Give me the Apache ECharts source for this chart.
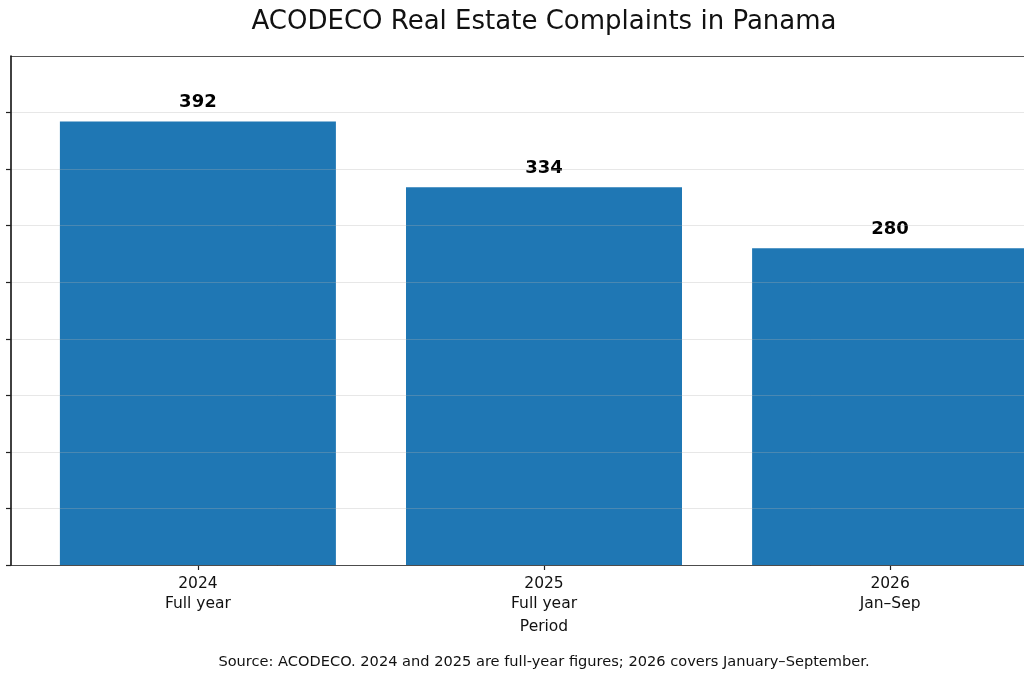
<!DOCTYPE html>
<html>
<head>
<meta charset="utf-8">
<script src="https://cdn.jsdelivr.net/npm/echarts@6/dist/echarts.min.js"></script>
<style>
  html, body { margin: 0; padding: 0; background: #fff; overflow: hidden; }
  /* the original plot runs past the right edge of the picture, so the canvas is wider than the window */
  #chart { width: 1100px; height: 683px; }
</style>
</head>
<body>
<div id="chart"></div>
<script>
// data
const years = ['2024', '2025', '2026'];
const periods = ['Full year', 'Full year', 'Jan–Sep'];
const complaints = [392, 334, 280];
const yTicks = [0, 50, 100, 150, 200, 250, 300, 350, 400];
const xTicks = [0, 1, 2];

const titleText = 'ACODECO Real Estate Complaints in Panama';
const sourceText = 'Source: ACODECO. 2024 and 2025 are full-year figures; 2026 covers January–September.';

const font = 'DejaVu Sans';

// bars sit on a value axis so the side margins can match the original plot
const barData = complaints.map(function (v, i) {
    return [i, v];
});

const chart = echarts.init(document.getElementById('chart'), null, {renderer: 'canvas'});

const option = {
    animation: false,
    backgroundColor: '#ffffff',
    textStyle: {fontFamily: font},
    grid: {
        left: 11,
        top: 56,
        right: 23,
        bottom: 118,
        containLabel: false
    },
    xAxis: [
        {
            type: 'value',
            min: -0.54,
            max: 2.54,
            position: 'bottom',
            name: 'Period',
            nameLocation: 'middle',
            nameGap: 51,
            nameTextStyle: {fontSize: 15.5, color: '#111', fontFamily: font},
            axisLine: {show: true, onZero: false, lineStyle: {color: '#222', width: 1.2}},
            axisTick: {show: true, length: 5, customValues: xTicks, lineStyle: {color: '#222', width: 1.2}},
            axisLabel: {
                customValues: xTicks,
                margin: 9,
                fontSize: 15.5,
                lineHeight: 20,
                color: '#111',
                fontFamily: font,
                formatter: function (v) {
                    const i = Math.round(v);
                    return years[i] + '\n' + periods[i];
                }
            },
            splitLine: {show: false},
            z: 6
        },
        {
            type: 'value',
            min: -0.54,
            max: 2.54,
            position: 'top',
            axisLine: {show: true, onZero: false, lineStyle: {color: '#555', width: 1.2}},
            axisTick: {show: false},
            axisLabel: {show: false},
            splitLine: {show: false},
            z: 6
        }
    ],
    yAxis: {
        type: 'value',
        min: 0,
        max: 450,
        interval: 50,
        axisLine: {show: true, onZero: false, lineStyle: {color: '#111', width: 1.6}},
        axisTick: {show: true, length: 5, customValues: yTicks, lineStyle: {color: '#222', width: 1.2}},
        axisLabel: {show: false},
        splitLine: {show: true, lineStyle: {color: 'rgba(176,176,176,0.3)', width: 1}},
        z: 7
    },
    graphic: [
        {
            type: 'text',
            x: 544,
            y: 22,
            style: {
                text: titleText,
                align: 'center',
                verticalAlign: 'middle',
                fontSize: 26,
                fontFamily: font,
                fill: '#111'
            }
        },
        {
            type: 'text',
            x: 544,
            y: 662,
            style: {
                text: sourceText,
                align: 'center',
                verticalAlign: 'middle',
                fontSize: 14.6,
                fontFamily: font,
                fill: '#111'
            }
        }
    ],
    series: [
        {
            type: 'bar',
            xAxisIndex: 0,
            data: barData,
            barWidth: 276,
            itemStyle: {color: '#1f77b4'},
            label: {
                show: true,
                position: 'top',
                distance: 10,
                fontSize: 18,
                fontWeight: 'bold',
                color: '#000',
                fontFamily: font,
                formatter: function (p) {
                    return String(p.value[1]);
                }
            }
        }
    ]
};

chart.setOption(option);
</script>
</body>
</html>
